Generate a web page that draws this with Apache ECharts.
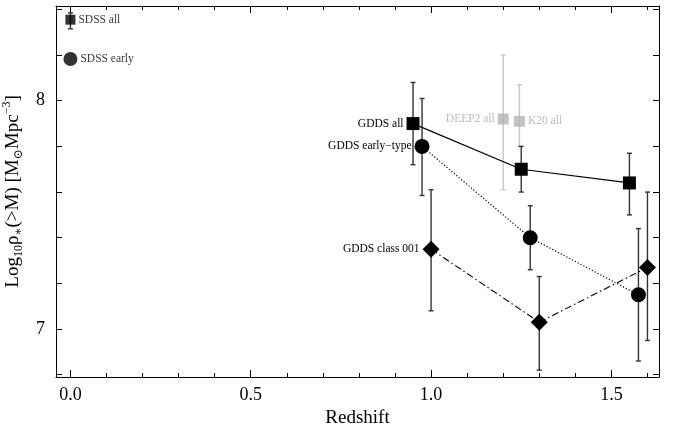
<!DOCTYPE html>
<html>
<head>
<meta charset="utf-8">
<script src="https://cdn.jsdelivr.net/npm/echarts@6/dist/echarts.min.js"></script>
<style>
  html, body { margin: 0; padding: 0; background: #fff; }
  #chart { width: 673px; height: 427px; }
</style>
</head>
<body>
<div id="chart"></div>
<script>
// redshift / log10 stellar mass density
const gddsAllZ = [0.95, 1.25, 1.55];
const gddsAllVal = [7.90, 7.70, 7.64];
const gddsAllHi = [8.08, 7.80, 7.77];
const gddsAllLo = [7.72, 7.60, 7.50];

const gddsEarlyZ = [0.975, 1.275, 1.575];
const gddsEarlyVal = [7.80, 7.40, 7.15];
const gddsEarlyHi = [8.01, 7.54, 7.44];
const gddsEarlyLo = [7.585, 7.26, 6.86];

const class001Z = [1.0, 1.3, 1.6];
const class001Val = [7.35, 7.03, 7.27];
const class001Hi = [7.61, 7.23, 7.60];
const class001Lo = [7.08, 6.82, 6.95];

const deep2Z = [1.2];
const deep2Val = [7.92];
const deep2Hi = [8.20];
const deep2Lo = [7.61];

const k20Z = [1.245];
const k20Val = [7.91];
const k20Hi = [8.07];
const k20Lo = [7.80];

const sdssAllZ = [0.0];
const sdssAllVal = [8.355];
const sdssAllHi = [8.385];
const sdssAllLo = [8.315];

const sdssEarlyZ = [0.0];
const sdssEarlyVal = [8.183];

const xMajorTicks = [0, 0.5, 1.0, 1.5];
const xMinorTicks = [0.1, 0.2, 0.3, 0.4, 0.6, 0.7, 0.8, 0.9, 1.1, 1.2, 1.3, 1.4, 1.6];
const yTicks = [6.8, 7.0, 7.2, 7.4, 7.6, 7.8, 8.0, 8.2, 8.4];
const yLabels = [7, 8];

const X_MIN = -0.04, X_MAX = 1.632;
const Y_MIN = 6.79, Y_MAX = 8.415;
const serif = '"Liberation Serif", "DejaVu Serif", serif';

const chart = echarts.init(document.getElementById('chart'));

function pts(z, v) {
  return z.map((x, i) => [x, v[i]]);
}

// vertical error bars with small caps
function errBars(z, lo, hi, color) {
  return {
    type: 'custom',
    silent: true,
    z: 1,
    data: z.map((x, i) => [x, lo[i], hi[i]]),
    encode: { x: 0, y: [1, 2] },
    renderItem: (params, api) => {
      const top = api.coord([api.value(0), api.value(2)]);
      const bot = api.coord([api.value(0), api.value(1)]);
      const st = { stroke: color, lineWidth: 1.4 };
      return {
        type: 'group',
        children: [
          { type: 'line', shape: { x1: top[0], y1: top[1], x2: bot[0], y2: bot[1] }, style: st },
          { type: 'line', shape: { x1: top[0] - 2.5, y1: top[1], x2: top[0] + 2.5, y2: top[1] }, style: st },
          { type: 'line', shape: { x1: bot[0] - 2.5, y1: bot[1], x2: bot[0] + 2.5, y2: bot[1] }, style: st }
        ]
      };
    }
  };
}

function labelled(data, text, pos, color) {
  data[0] = {
    value: data[0],
    label: {
      show: true, position: pos, distance: 3, formatter: text,
      color: color || '#000', fontFamily: serif, fontSize: 11.5
    }
  };
  return data;
}

const tickStyle = { color: '#000', width: 1 };
const frameLine = { onZero: false, lineStyle: { color: '#000', width: 1 } };
const noLine = { show: false, onZero: false };
const baseX = { type: 'value', min: X_MIN, max: X_MAX, splitLine: { show: false } };
const baseY = { type: 'value', min: Y_MIN, max: Y_MAX, splitLine: { show: false } };

const option = {
  animation: false,
  grid: { left: 56, right: 14, top: 6, bottom: 50, containLabel: false, outerBoundsMode: 'none' },
  xAxis: [
    Object.assign({}, baseX, {
      position: 'bottom',
      name: 'Redshift', nameLocation: 'middle', nameGap: 25,
      nameTextStyle: { fontFamily: serif, fontSize: 19, color: '#000' },
      axisLine: frameLine,
      axisTick: { inside: true, length: 7, customValues: xMajorTicks, lineStyle: tickStyle },
      axisLabel: {
        customValues: xMajorTicks, margin: 9, color: '#000',
        fontFamily: serif, fontSize: 18, formatter: v => v.toFixed(1)
      }
    }),
    Object.assign({}, baseX, {
      position: 'bottom',
      axisLine: noLine,
      axisTick: { inside: true, length: 4, customValues: xMinorTicks, lineStyle: tickStyle },
      axisLabel: { show: false }
    }),
    Object.assign({}, baseX, {
      position: 'top',
      axisLine: frameLine,
      axisTick: { inside: true, length: 7, customValues: xMajorTicks, lineStyle: tickStyle },
      axisLabel: { show: false }
    }),
    Object.assign({}, baseX, {
      position: 'top',
      axisLine: noLine,
      axisTick: { inside: true, length: 4, customValues: xMinorTicks, lineStyle: tickStyle },
      axisLabel: { show: false }
    })
  ],
  yAxis: [
    Object.assign({}, baseY, {
      position: 'left',
      name: '{n|Log}{s|10}{n|ρ}{s|∗}{n|(>M) [M}{s|⊙}{n|Mpc}{p|−3}{n|]}',
      nameLocation: 'middle', nameGap: 24,
      nameTextStyle: {
        color: '#000',
        rich: {
          n: { fontFamily: serif, fontSize: 19, lineHeight: 24, color: '#000' },
          s: { fontFamily: serif, fontSize: 12, lineHeight: 12, verticalAlign: 'bottom', color: '#000' },
          p: { fontFamily: serif, fontSize: 12, lineHeight: 12, verticalAlign: 'top', color: '#000' }
        }
      },
      axisLine: frameLine,
      axisTick: { inside: true, length: 6, customValues: yTicks, lineStyle: tickStyle },
      axisLabel: {
        customValues: yLabels, margin: 11, color: '#000',
        fontFamily: serif, fontSize: 18
      }
    }),
    Object.assign({}, baseY, {
      position: 'right',
      axisLine: frameLine,
      axisTick: { inside: true, length: 6, customValues: yTicks, lineStyle: tickStyle },
      axisLabel: { show: false }
    })
  ],
  series: [
    errBars(deep2Z, deep2Lo, deep2Hi, '#c8c8c8'),
    errBars(k20Z, k20Lo, k20Hi, '#c8c8c8'),
    errBars(gddsAllZ, gddsAllLo, gddsAllHi, '#333'),
    errBars(gddsEarlyZ, gddsEarlyLo, gddsEarlyHi, '#333'),
    errBars(class001Z, class001Lo, class001Hi, '#333'),
    errBars(sdssAllZ, sdssAllLo, sdssAllHi, '#333'),
    {
      type: 'line', name: 'GDDS all', z: 3,
      data: labelled(pts(gddsAllZ, gddsAllVal), 'GDDS all', 'left'),
      symbol: 'rect', symbolSize: 13, showAllSymbol: true,
      itemStyle: { color: '#000' },
      lineStyle: { color: '#000', width: 1.2 }
    },
    {
      type: 'line', name: 'GDDS early-type', z: 3,
      data: labelled(pts(gddsEarlyZ, gddsEarlyVal), 'GDDS early−type', 'left'),
      symbol: 'circle', symbolSize: 15,
      itemStyle: { color: '#000' },
      lineStyle: { color: '#000', width: 1.2, type: [1.2, 2] }
    },
    {
      type: 'line', name: 'GDDS class 001', z: 3,
      data: labelled(pts(class001Z, class001Val), 'GDDS class 001', 'left'),
      symbol: 'diamond', symbolSize: 17,
      itemStyle: { color: '#000' },
      lineStyle: { color: '#000', width: 1.1, type: [7, 3, 1.5, 3] }
    },
    {
      type: 'scatter', name: 'DEEP2 all', z: 3,
      data: labelled(pts(deep2Z, deep2Val), 'DEEP2 all', 'left', '#aaa'),
      symbol: 'rect', symbolSize: 11, itemStyle: { color: '#b4b4b4' }
    },
    {
      type: 'scatter', name: 'K20 all', z: 3,
      data: labelled(pts(k20Z, k20Val), 'K20 all', 'right', '#aaa'),
      symbol: 'rect', symbolSize: 11, itemStyle: { color: '#b4b4b4' }
    },
    {
      type: 'scatter', name: 'SDSS all', z: 3,
      data: labelled(pts(sdssAllZ, sdssAllVal), 'SDSS all', 'right'),
      symbol: 'rect', symbolSize: 10, itemStyle: { color: '#000' }
    },
    {
      type: 'scatter', name: 'SDSS early', z: 3,
      data: labelled(pts(sdssEarlyZ, sdssEarlyVal), 'SDSS early', 'right'),
      symbol: 'circle', symbolSize: 14, itemStyle: { color: '#000' }
    }
  ]
};

chart.setOption(option);
</script>
</body>
</html>
